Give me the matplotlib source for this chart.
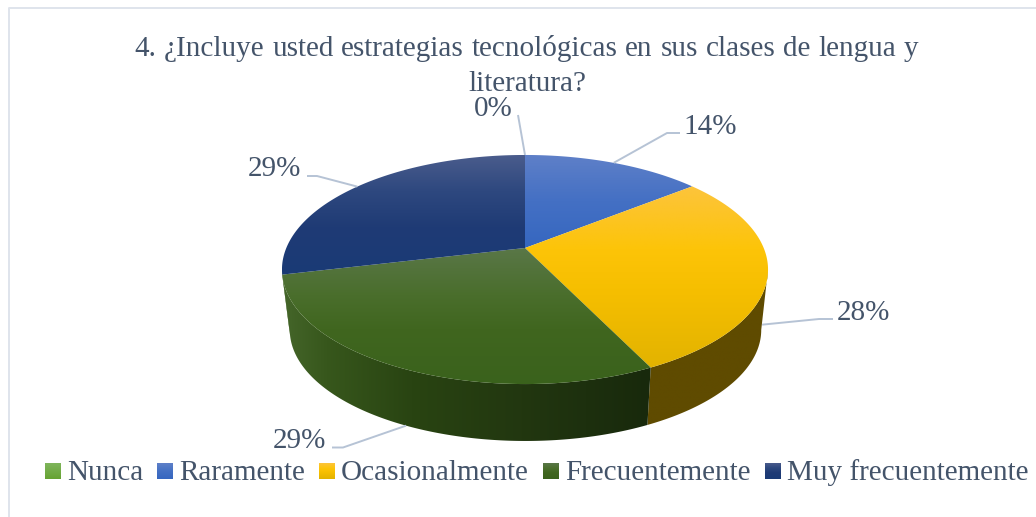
import numpy as np
import matplotlib
matplotlib.use("Agg")
import matplotlib.pyplot as plt
from matplotlib.colors import to_rgb
from matplotlib.patches import Polygon

# ---- data ----
categories = ["Nunca", "Raramente", "Ocasionalmente", "Frecuentemente", "Muy frecuentemente"]
values = [0.0, 14.3, 28.49, 28.51, 28.7]
title_words = "4. ¿Incluye usted estrategias tecnológicas en sus clases de lengua y".split(" ")
title_line2 = "literatura?"

# ---- styles ----
TEXT = "#44546a"
LEADER = "#b6c3d5"
FONT = "Liberation Serif"
top_stops = [
    [(0, "#7fb55c"), (1, "#66a332")],
    [(0, "#5f80c8"), (.5, "#4470c4"), (1, "#3667c0")],
    [(0, "#fcc43c"), (.35, "#fdc408"), (.6, "#f5be00"), (1, "#e2b300")],
    [(0, "#5a7748"), (.35, "#4a6e2c"), (.6, "#40661f"), (1, "#3a621c")],
    [(0, "#4a5c8c"), (.3, "#2e487f"), (.6, "#1f3b75"), (1, "#1a3a76")],
]
wall_stops = [
    [(0, "#4a7a2a"), (1, "#33521a")],
    [(0, "#223a70"), (1, "#1c3260")],
    [(0, "#5f4b00"), (1, "#5f4b00")],
    [(0, "#45662a"), (.12, "#37571c"), (.35, "#294412"), (.65, "#223710"), (1, "#18290c")],
    [(0, "#45662a"), (1, "#45662a")],
]
legend_swatch_x = [45, 157, 319, 543, 765]
legend_text_x = [67, 179, 341, 565, 787]
label_pos = [(493, 116), (710, 133.5), (863, 319.5), (299.5, 448), (274, 176.5)]
elbow_a = [(518, 115), (680, 133), (833, 319), (332, 447.5), (307, 176)]
elbow_b = [(518, 115), (667, 133), (819, 319), (343, 447.5), (317, 176)]
wall_frac = [0, 0, 0.85, 1, 0]

# ---- pie geometry (perspective disc) ----
CX, CY, B, A, K = 525, 248, 238.7, 110.5, 0.1878
DEPTH_X, DEPTH_Y, SCALE = 0.5, 61, 0.97
TH_R = np.arccos(-K)
TH_L = 2 * np.pi - TH_R


def proj(theta, bottom=False):
    u, v = np.sin(theta), np.cos(theta)
    d = 1 + K * v
    s = SCALE if bottom else 1.0
    return (CX + (DEPTH_X if bottom else 0) + s * B * u / d,
            CY + (DEPTH_Y if bottom else 0) - s * A * v / d)


def grad_img(ax, poly, stops, horizontal=False):
    xy = poly.get_xy()
    x0, x1 = xy[:, 0].min(), xy[:, 0].max()
    y0, y1 = xy[:, 1].min(), xy[:, 1].max()
    t = np.linspace(0, 1, 256)
    fr = [s[0] for s in stops]
    cols = np.array([to_rgb(s[1]) for s in stops])
    rgb = np.stack([np.interp(t, fr, cols[:, i]) for i in range(3)], axis=-1)
    img = rgb[None, :, :] if horizontal else rgb[:, None, :]
    im = ax.imshow(img, extent=(x0, x1, y1, y0), aspect="auto",
                   interpolation="bilinear", zorder=poly.get_zorder())
    poly.set_facecolor("none")
    poly.set_edgecolor("none")
    ax.add_patch(poly)
    im.set_clip_path(poly)


fig = plt.figure(figsize=(10.36, 5.17), dpi=100, facecolor="white")
ax = fig.add_axes([0, 0, 1, 1])
ax.axis("off")

cum = np.cumsum([0] + values) / sum(values) * 2 * np.pi
starts, ends = cum[:-1], cum[1:]

# walls: only the part of each slice facing the viewer
for i, (a, b) in enumerate(zip(starts, ends)):
    lo, hi = max(a, TH_R), min(b, TH_L)
    if hi <= lo:
        continue
    th = np.linspace(lo, hi, 200)
    xt, yt = proj(th)
    xb, yb = proj(th[::-1], True)
    poly = Polygon(np.c_[np.r_[xt, xb], np.r_[yt, yb]], closed=True, zorder=2)
    grad_img(ax, poly, wall_stops[i], horizontal=True)

# top faces
for i, (a, b) in enumerate(zip(starts, ends)):
    if b - a <= 0:
        continue
    th = np.linspace(a, b, 200)
    xt, yt = proj(th)
    poly = Polygon(np.c_[np.r_[CX, xt], np.r_[CY, yt]], closed=True, zorder=3)
    grad_img(ax, poly, top_stops[i])

# labels with leader lines
for i, v in enumerate(values):
    mid = (starts[i] + ends[i]) / 2
    xt, yt = proj(mid)
    xb, yb = proj(mid, True)
    f = wall_frac[i]
    pt = (xt + (xb - xt) * f, yt + (yb - yt) * f)
    ax.plot([elbow_a[i][0], elbow_b[i][0], pt[0]],
            [elbow_a[i][1], elbow_b[i][1], pt[1]],
            color=LEADER, lw=1.4, zorder=4, solid_capstyle="butt")
    ax.text(label_pos[i][0], label_pos[i][1], f"{v:.0f}%", family=FONT, fontsize=21,
            color=TEXT, ha="center", va="baseline", zorder=5)

# title: first line justified between its two ends, as in the reference
TITLE_X0, TITLE_X1 = 134.5, 918
renderer = fig.canvas.get_renderer()
word_artists = [ax.text(0, 56, w, family=FONT, fontsize=21, color=TEXT, ha="left",
                        va="baseline", zorder=5) for w in title_words]
ax.set_xlim(0, 1036)
ax.set_ylim(517, 0)
widths = [t.get_window_extent(renderer).width for t in word_artists]
gap = (TITLE_X1 - TITLE_X0 - sum(widths)) / (len(widths) - 1)
x = TITLE_X0
for t, w in zip(word_artists, widths):
    t.set_x(x)
    x += w + gap
ax.text(527, 91, title_line2, family=FONT, fontsize=21, color=TEXT,
        ha="center", va="baseline", zorder=5)

# legend
for i, c in enumerate(categories):
    x0 = legend_swatch_x[i]
    sq = Polygon([(x0, 463), (x0 + 16, 463), (x0 + 16, 479), (x0, 479)], closed=True, zorder=3)
    grad_img(ax, sq, top_stops[i])
    ax.text(legend_text_x[i], 480.5, c, family=FONT, fontsize=21, color=TEXT,
            ha="left", va="baseline", zorder=5)

# chart frame
ax.plot([9, 9, 1036], [517, 7.5, 7.5], color="#dfe4ec", lw=1.4, zorder=1)

ax.set_xlim(0, 1036)
ax.set_ylim(517, 0)
fig.savefig("out.png", dpi=100, facecolor="white")
